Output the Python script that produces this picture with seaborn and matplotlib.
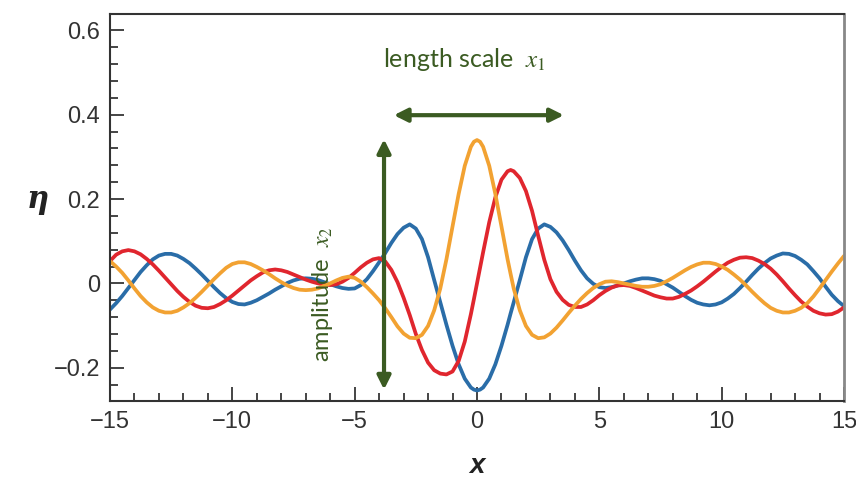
import seaborn as sns
import matplotlib.pyplot as plt
import matplotlib.ticker as mticker
import pandas as pd

# posiciones x donde se leyeron las curvas (cada 0.25, mas fino en el centro)
x = [-15, -14.75, -14.5, -14.25, -14, -13.75, -13.5, -13.25, -13, -12.75, -12.5, -12.25,
     -12, -11.75, -11.5, -11.25, -11, -10.75, -10.5, -10.25, -10, -9.75, -9.5, -9.25,
     -9, -8.75, -8.5, -8.25, -8, -7.75, -7.5, -7.25, -7, -6.75, -6.5, -6.25,
     -6, -5.75, -5.5, -5.25, -5, -4.75, -4.5, -4.25, -4, -3.75, -3.5, -3.25,
     -3, -2.75, -2.5, -2.25, -2, -1.75, -1.5, -1.25, -1, -0.75, -0.5, -0.25, -0.125,
     0, 0.125, 0.25, 0.5, 0.75, 1, 1.25, 1.375, 1.5, 1.75, 2, 2.25, 2.5, 2.75,
     3, 3.25, 3.5, 3.75, 4, 4.25, 4.5, 4.75, 5, 5.25, 5.5, 5.75,
     6, 6.25, 6.5, 6.75, 7, 7.25, 7.5, 7.75, 8, 8.25, 8.5, 8.75,
     9, 9.25, 9.5, 9.75, 10, 10.25, 10.5, 10.75, 11, 11.25, 11.5, 11.75,
     12, 12.25, 12.5, 12.75, 13, 13.25, 13.5, 13.75, 14, 14.25, 14.5, 14.75, 15]

eta_azul = [-0.062, -0.047, -0.030, -0.011, 0.008, 0.027, 0.043, 0.057, 0.066, 0.070, 0.070, 0.066,
            0.058, 0.048, 0.035, 0.021, 0.006, -0.009, -0.023, -0.035, -0.044, -0.049, -0.050, -0.046,
            -0.040, -0.032, -0.024, -0.015, -0.007, 0.001, 0.007, 0.011, 0.012, 0.011, 0.008, 0.003,
            -0.002, -0.007, -0.011, -0.013, -0.012, -0.004, 0.010, 0.029, 0.050, 0.072, 0.096, 0.117,
            0.132, 0.140, 0.130, 0.105, 0.062, 0.008, -0.045, -0.098, -0.148, -0.192, -0.226, -0.247, -0.252,
            -0.254, -0.252, -0.247, -0.226, -0.192, -0.148, -0.098, -0.071, -0.045, 0.008, 0.062, 0.105, 0.130, 0.140,
            0.134, 0.121, 0.102, 0.079, 0.054, 0.031, 0.012, -0.001, -0.009, -0.011, -0.009, -0.005,
            0.000, 0.005, 0.009, 0.012, 0.012, 0.010, 0.006, -0.002, -0.010, -0.020, -0.030, -0.039,
            -0.046, -0.050, -0.052, -0.050, -0.045, -0.036, -0.025, -0.011, 0.004, 0.020, 0.035, 0.048,
            0.059, 0.066, 0.071, 0.070, 0.065, 0.056, 0.045, 0.029, 0.012, -0.008, -0.027, -0.042, -0.054]

eta_rojo = [0.053, 0.068, 0.076, 0.079, 0.076, 0.069, 0.058, 0.045, 0.030, 0.014, -0.002, -0.018,
            -0.032, -0.044, -0.053, -0.058, -0.059, -0.056, -0.049, -0.040, -0.029, -0.017, -0.005, 0.007,
            0.017, 0.026, 0.031, 0.033, 0.031, 0.027, 0.021, 0.015, 0.009, 0.004, 0.000, -0.003,
            -0.004, -0.002, 0.004, 0.013, 0.025, 0.038, 0.049, 0.057, 0.060, 0.052, 0.032, 0.003,
            -0.034, -0.075, -0.120, -0.158, -0.188, -0.206, -0.214, -0.216, -0.209, -0.184, -0.138, -0.073, -0.037,
            0.000, 0.037, 0.074, 0.145, 0.204, 0.246, 0.266, 0.269, 0.266, 0.250, 0.219, 0.172, 0.113, 0.056,
            0.010, -0.020, -0.039, -0.051, -0.056, -0.056, -0.050, -0.040, -0.028, -0.018, -0.010, -0.005,
            -0.004, -0.006, -0.011, -0.017, -0.023, -0.029, -0.033, -0.036, -0.036, -0.032, -0.025, -0.017,
            -0.007, 0.004, 0.016, 0.028, 0.039, 0.049, 0.056, 0.061, 0.062, 0.060, 0.054, 0.046,
            0.035, 0.021, 0.005, -0.012, -0.028, -0.043, -0.055, -0.065, -0.071, -0.074, -0.073, -0.067, -0.057]

eta_naranja = [0.053, 0.040, 0.025, 0.007, -0.012, -0.030, -0.045, -0.057, -0.065, -0.069, -0.069, -0.065,
               -0.057, -0.047, -0.034, -0.020, -0.005, 0.010, 0.024, 0.037, 0.046, 0.050, 0.050, 0.046,
               0.039, 0.031, 0.022, 0.012, 0.003, -0.005, -0.011, -0.015, -0.016, -0.015, -0.012, -0.006,
               0.000, 0.007, 0.013, 0.016, 0.013, 0.004, -0.009, -0.024, -0.040, -0.059, -0.080, -0.102,
               -0.119, -0.129, -0.130, -0.122, -0.101, -0.064, -0.012, 0.057, 0.135, 0.212, 0.279, 0.324, 0.336,
               0.340, 0.336, 0.324, 0.279, 0.212, 0.135, 0.057, 0.022, -0.012, -0.064, -0.101, -0.122, -0.130, -0.128,
               -0.119, -0.105, -0.088, -0.070, -0.053, -0.037, -0.023, -0.011, -0.002, 0.004, 0.005, 0.003,
               0.000, -0.003, -0.006, -0.008, -0.008, -0.006, -0.002, 0.005, 0.013, 0.022, 0.031, 0.039,
               0.045, 0.049, 0.049, 0.046, 0.040, 0.032, 0.021, 0.009, -0.005, -0.020, -0.034, -0.047,
               -0.058, -0.065, -0.069, -0.069, -0.065, -0.058, -0.047, -0.031, -0.012, 0.008, 0.028, 0.047, 0.065]

colores = {'azul': '#2a6da8', 'rojo': '#e0262e', 'naranja': '#f2a232'}
verde = '#3b5b22'

df = pd.concat([
    pd.DataFrame({'x': x, 'eta': eta_azul, 'serie': 'azul'}),
    pd.DataFrame({'x': x, 'eta': eta_rojo, 'serie': 'rojo'}),
    pd.DataFrame({'x': x, 'eta': eta_naranja, 'serie': 'naranja'}),
])

sns.set_style('white')
plt.rcParams['font.family'] = ['Liberation Sans', 'DejaVu Sans']
plt.rcParams['mathtext.fontset'] = 'stix'
plt.rcParams['lines.solid_joinstyle'] = 'round'

fig = plt.figure(figsize=(8.56, 4.82), dpi=100)
ax = fig.add_axes([110/856, 1 - 401/482, 734/856, 387/482])

sns.lineplot(data=df, x='x', y='eta', hue='serie', palette=colores, linewidth=2.7,
             legend=False, errorbar=None, ax=ax)

ax.set_xlim(-15, 15)
ax.set_ylim(-0.279, 0.639)
ax.xaxis.set_major_locator(mticker.MultipleLocator(5))
ax.xaxis.set_minor_locator(mticker.MultipleLocator(1))
ax.yaxis.set_major_locator(mticker.FixedLocator([-0.2, 0, 0.2, 0.4, 0.6]))
ax.yaxis.set_minor_locator(mticker.MultipleLocator(0.04))
ax.xaxis.set_major_formatter(mticker.FuncFormatter(lambda v, p: f'{v:.0f}'.replace('-', '\u2212')))
ax.yaxis.set_major_formatter(mticker.FuncFormatter(lambda v, p: ('0' if abs(v) < 1e-9 else f'{v:.1f}').replace('-', '\u2212')))

ax.tick_params(which='both', direction='in', colors='#444444', labelcolor='#333333', width=1.4)
ax.tick_params(which='major', length=10, labelsize=17, pad=7)
ax.tick_params(which='minor', length=5.5)
ax.tick_params(axis='x', which='both', top=False, bottom=True)
ax.tick_params(axis='y', which='both', left=True, right=False)

for lado in ['left', 'bottom', 'top']:
    ax.spines[lado].set_color('#333333')
    ax.spines[lado].set_linewidth(1.5)
ax.spines['right'].set_color('#888888')
ax.spines['right'].set_linewidth(2)

ax.set_xlabel('x', fontsize=20, fontweight='bold', fontstyle='italic', color='#222222')
ax.xaxis.set_label_coords(0.5, -0.135)
ax.set_ylabel('η', fontsize=22, fontweight='bold', fontstyle='italic', family='DejaVu Serif',
              rotation=0, color='#222222', va='center', ha='center')
ax.yaxis.set_label_coords(-0.098, 0.52)

# flechas y textos en verde
ax.annotate('', xy=(-3.4, 0.399), xytext=(3.55, 0.399),
            arrowprops=dict(arrowstyle='<|-|>', color=verde, lw=3, mutation_scale=20, shrinkA=0, shrinkB=0))
ax.annotate('', xy=(-3.8, 0.342), xytext=(-3.8, -0.252),
            arrowprops=dict(arrowstyle='<|-|>', color=verde, lw=3, mutation_scale=20, shrinkA=0, shrinkB=0))
ax.text(-0.5, 0.53, 'length scale  $x_1$', color=verde, fontsize=18, family='Lato', ha='center', va='center')
ax.text(-6.3, -0.025, 'amplitude  $x_2$', color=verde, fontsize=17, family='Lato', ha='center', va='center',
        rotation=90)

plt.savefig('out.png', dpi=100)
